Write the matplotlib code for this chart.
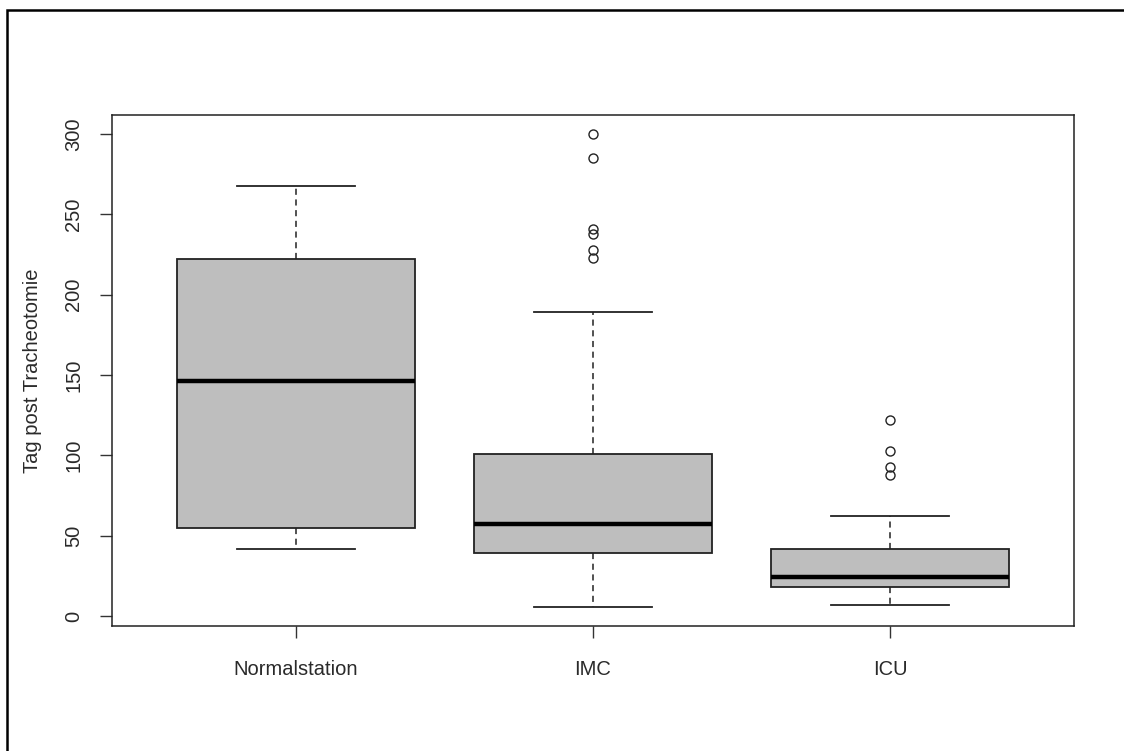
import numpy as np
import matplotlib.pyplot as plt
from matplotlib.patches import Rectangle

plt.rcParams['font.family'] = ['Liberation Sans', 'DejaVu Sans']

groups = ["Normalstation", "IMC", "ICU"]
whislo = [41.7, 5.6, 6.8]
q1 = [54.8, 39.2, 18.0]
med = [146.0, 57.2, 24.3]
q3 = [222.5, 100.8, 41.7]
whishi = [267.6, 189.0, 62.2]
fliers = [[], [300, 285, 241, 238, 228, 223], [122, 103, 93, 88]]

stats = []
for i in range(len(groups)):
    stats.append(dict(label=groups[i], whislo=whislo[i], q1=q1[i], med=med[i],
                      q3=q3[i], whishi=whishi[i], fliers=fliers[i]))

fig = plt.figure(figsize=(11.24, 7.51), dpi=100)
ax = fig.add_axes([0.0996, 0.1664, 0.8559, 0.6804])

ax.bxp(stats, positions=[1, 2, 3], widths=0.8, patch_artist=True,
       boxprops=dict(facecolor='#bebebe', edgecolor='#222222', linewidth=1.3),
       medianprops=dict(color='black', linewidth=3.2),
       whiskerprops=dict(color='#222222', linestyle=(0, (4, 3)), linewidth=1.1),
       capprops=dict(color='#222222', linewidth=1.3),
       flierprops=dict(marker='o', markerfacecolor='none', markeredgecolor='#222222',
                       markersize=6.5, markeredgewidth=1.0),
       capwidths=0.4)

ax.set_xlim(0.38, 3.62)
ax.set_ylim(-6.2, 311.8)
ax.set_yticks([0, 50, 100, 150, 200, 250, 300])
ax.set_yticklabels(["0", "50", "100", "150", "200", "250", "300"], rotation=90, va='center')
ax.set_xticks([1, 2, 3])
ax.set_xticklabels(groups)
ax.tick_params(axis='both', length=8.6, width=1.0, color='#333333', labelsize=14.5,
               labelcolor='#2a2a2a')
ax.tick_params(axis='y', pad=12)
ax.tick_params(axis='x', pad=16)
ax.set_ylabel("Tag post Tracheotomie", fontsize=14.5, color='#2a2a2a', labelpad=16)
for s in ax.spines.values():
    s.set_linewidth(1.1)
    s.set_color('#222222')

# outer frame
fig.add_artist(Rectangle((7 / 1124, -0.1), 1.2, 1.1 - 10 / 751, transform=fig.transFigure,
                         fill=False, edgecolor='black', linewidth=1.8))

fig.savefig("out.png", dpi=100)
